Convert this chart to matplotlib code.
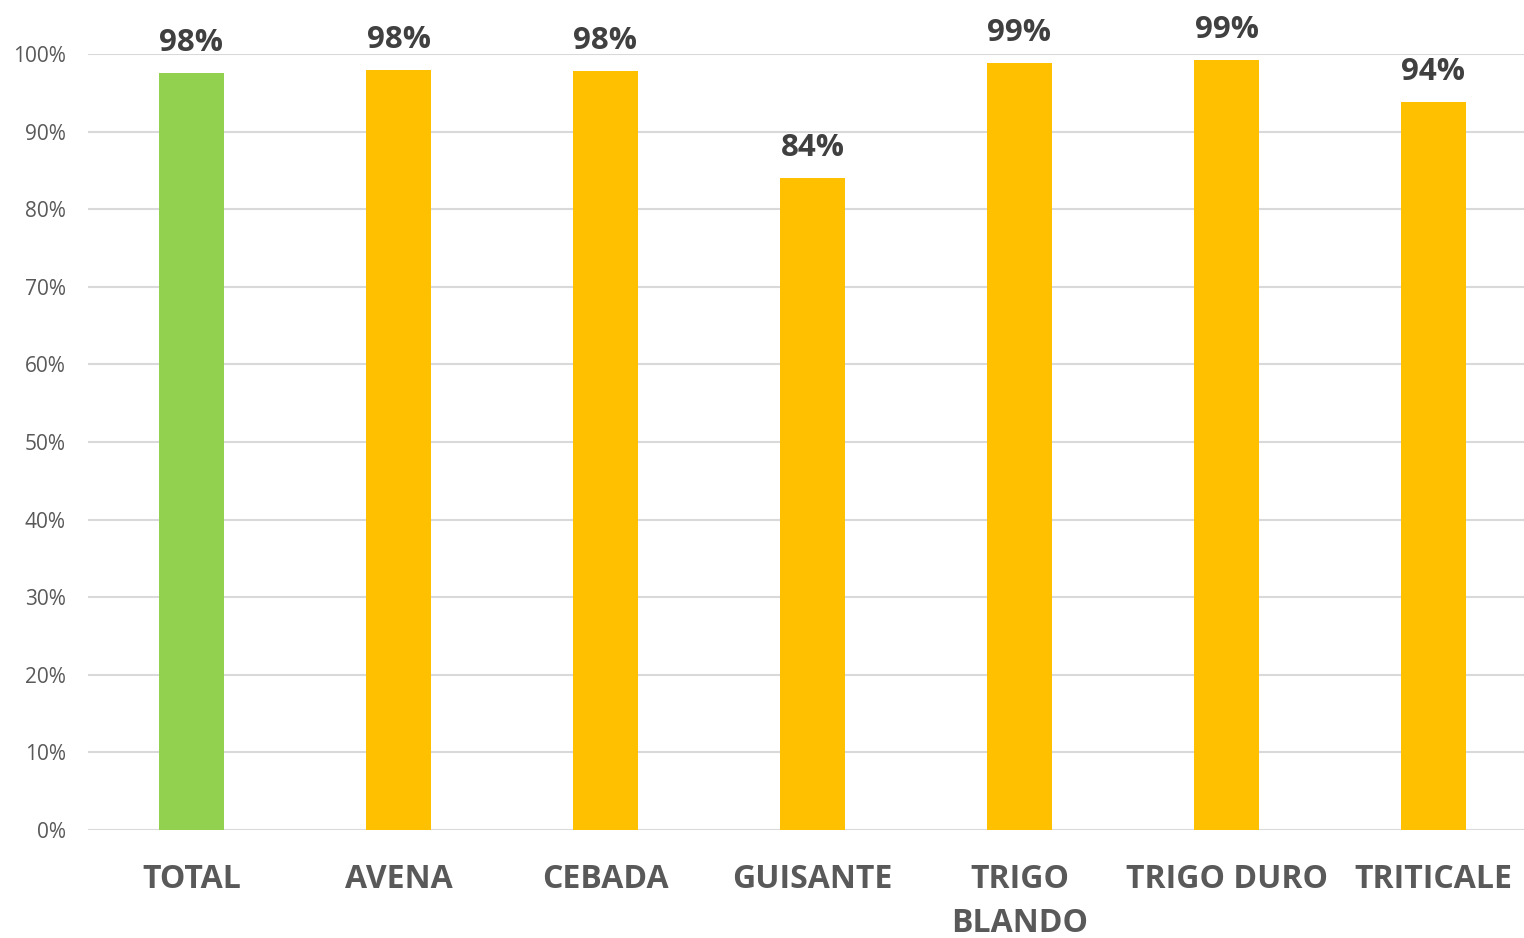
#!/usr/bin/env python3
# -*- coding: utf-8 -*-
"""
Bar chart of percentages per crop, with a highlighted total bar.
"""

import matplotlib
matplotlib.use('Agg')
import matplotlib.pyplot as plt
from matplotlib.ticker import PercentFormatter

categories = ['TOTAL', 'AVENA', 'CEBADA', 'GUISANTE', 'TRIGO\nBLANDO',
              'TRIGO DURO', 'TRITICALE']
values = [97.6, 98.0, 97.9, 84.1, 98.9, 99.3, 93.9]
bar_colors = ['#92D050', '#FFC000', '#FFC000', '#FFC000', '#FFC000',
              '#FFC000', '#FFC000']
yticks = list(range(0, 101, 10))

FONT = 'Open Sans'


def plot_bars(file_out):
    figure = plt.figure(figsize=(15.24, 9.38), dpi=100)
    axes = figure.add_axes([88 / 1524, 108.3 / 938, 1449 / 1524, 775.4 / 938])

    positions = list(range(len(categories)))
    bars = axes.bar(positions, values, width=0.314, color=bar_colors, zorder=2)

    for bar, value in zip(bars, values):
        axes.annotate('%d%%' % round(value),
                      (bar.get_x() + bar.get_width() / 2, bar.get_height()),
                      xytext=(0, 15.8), textcoords='offset points',
                      ha='center', va='baseline', fontsize=22.5,
                      fontweight='bold', family=FONT, color='#404040',
                      annotation_clip=False)

    axes.set_xlim(-0.5, len(categories) - 0.5)
    axes.set_ylim(0, 100)
    axes.set_yticks(yticks)
    axes.yaxis.set_major_formatter(PercentFormatter(decimals=0))
    axes.grid(axis='y', color='#D9D9D9', linewidth=1.5, zorder=0)
    axes.set_axisbelow(True)
    for spine in axes.spines.values():
        spine.set_visible(False)

    axes.set_xticks(positions)
    axes.set_xticklabels(categories, fontsize=23, fontweight='bold',
                         family=FONT, color='#595959', linespacing=1.45)
    axes.tick_params(axis='x', length=0, pad=24)
    axes.tick_params(axis='y', length=0, pad=16, labelsize=15,
                     labelcolor='#595959')
    for label in axes.get_yticklabels():
        label.set_family(FONT)

    figure.savefig(file_out)
    plt.close(figure)


if __name__ == '__main__':
    plot_bars('out.png')
